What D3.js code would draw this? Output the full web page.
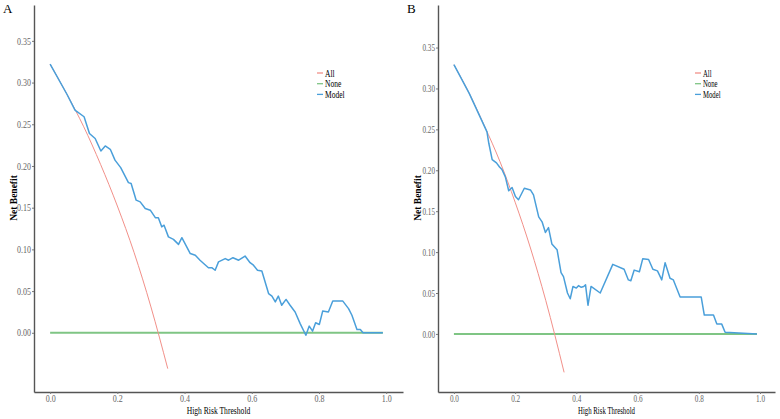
<!DOCTYPE html>
<html>
<head>
<meta charset="utf-8">
<script src="https://cdn.jsdelivr.net/npm/d3@7"></script>
<style>
  body { margin: 0; background: #fff; }
  svg { display: block; }
</style>
</head>
<body>
<svg id="chart" width="780" height="419"></svg>
<script>
// threshold probabilities and net benefit
const yTicks = [0, 0.05, 0.10, 0.15, 0.20, 0.25, 0.30, 0.35];
const xTicks = [0, 0.2, 0.4, 0.6, 0.8, 1.0];
const seriesNames = ['All', 'None', 'Model'];

const allA_t = [0, 0.05, 0.10, 0.15, 0.20, 0.25, 0.30, 0.35];
const allA_v = [0.322, 0.286, 0.247, 0.202, 0.152, 0.096, 0.031, -0.043];
const allB_t = [0, 0.05, 0.10, 0.15, 0.20, 0.25, 0.30, 0.36];
const allB_v = [0.329, 0.294, 0.254, 0.211, 0.161, 0.105, 0.041, -0.047];

const none_t = [0, 0.99];
const none_v = [0, 0];

const modelA_t = [0, 0.05, 0.074, 0.077, 0.101, 0.117, 0.134, 0.151, 0.164, 0.179,
  0.193, 0.210, 0.233, 0.241, 0.256, 0.268, 0.283, 0.298, 0.313, 0.322, 0.332,
  0.339, 0.352, 0.367, 0.382, 0.392, 0.417, 0.432, 0.446, 0.471, 0.481, 0.491,
  0.501, 0.521, 0.531, 0.544, 0.561, 0.580, 0.595, 0.605, 0.617, 0.630, 0.650,
  0.660, 0.670, 0.679, 0.689, 0.702, 0.714, 0.729, 0.744, 0.761, 0.771, 0.781,
  0.790, 0.801, 0.811, 0.828, 0.841, 0.871, 0.888, 0.898, 0.913, 0.923, 0.931, 0.99];
const modelA_v = [0.322, 0.286, 0.267, 0.266, 0.259, 0.239, 0.233, 0.218, 0.224, 0.220,
  0.207, 0.198, 0.180, 0.179, 0.159, 0.157, 0.149, 0.147, 0.138, 0.138, 0.127,
  0.129, 0.115, 0.112, 0.106, 0.114, 0.095, 0.093, 0.087, 0.078, 0.078, 0.075,
  0.085, 0.089, 0.087, 0.090, 0.087, 0.092, 0.084, 0.081, 0.075, 0.074, 0.047,
  0.044, 0.037, 0.044, 0.033, 0.040, 0.033, 0.025, 0.011, -0.003, 0.008, 0.002,
  0.012, 0.010, 0.026, 0.025, 0.038, 0.038, 0.029, 0.021, 0.004, 0.004, 0, 0];

const modelB_t = [0, 0.05, 0.108, 0.114, 0.125, 0.139, 0.149, 0.157, 0.168, 0.179,
  0.190, 0.201, 0.211, 0.230, 0.250, 0.260, 0.277, 0.288, 0.299, 0.309, 0.320,
  0.337, 0.350, 0.358, 0.371, 0.380, 0.389, 0.400, 0.407, 0.416, 0.424, 0.430,
  0.438, 0.448, 0.478, 0.519, 0.556, 0.570, 0.578, 0.589, 0.606, 0.617, 0.636,
  0.650, 0.665, 0.679, 0.690, 0.706, 0.717, 0.739, 0.808, 0.818, 0.848, 0.859,
  0.875, 0.886, 0.99];
const modelB_v = [0.329, 0.294, 0.247, 0.233, 0.213, 0.209, 0.204, 0.201, 0.192, 0.175,
  0.179, 0.168, 0.164, 0.178, 0.176, 0.170, 0.143, 0.137, 0.124, 0.130, 0.110,
  0.103, 0.075, 0.070, 0.050, 0.043, 0.058, 0.056, 0.059, 0.057, 0.058, 0.060,
  0.035, 0.058, 0.050, 0.085, 0.079, 0.066, 0.065, 0.078, 0.076, 0.092, 0.091,
  0.079, 0.077, 0.066, 0.087, 0.068, 0.066, 0.045, 0.045, 0.023, 0.023, 0.012,
  0.012, 0.002, 0];

const colors = { All: '#F29089', None: '#7FC584', Model: '#4A9FDA' };

const zip = (t, v) => t.map((d, i) => [d, v[i]]);

const panels = [
  { label: 'A', all: zip(allA_t, allA_v), model: zip(modelA_t, modelA_v),
    xDom: [-0.048, 1.05], xRange: [34, 403], yDom: [-0.071, 0.393], yRange: [392, 5],
    squeeze: 0.8, legendX: 317 },
  { label: 'B', all: zip(allB_t, allB_v), model: zip(modelB_t, modelB_v),
    xDom: [-0.052, 1.049], xRange: [438, 775], yDom: [-0.071, 0.402], yRange: [392, 5],
    squeeze: 0.72, legendX: 695 }
];

const svg = d3.select('#chart');
const font = '"Liberation Serif", "DejaVu Serif", serif';

// shrink a text horizontally (the figure's text is narrow)
function squeeze(sel, k) {
  sel.each(function() {
    const w = this.getComputedTextLength();
    d3.select(this).attr('textLength', w * k).attr('lengthAdjust', 'spacingAndGlyphs');
  });
}

panels.forEach(p => {
  const x = d3.scaleLinear().domain(p.xDom).range(p.xRange);
  const y = d3.scaleLinear().domain(p.yDom).range(p.yRange);
  const g = svg.append('g');

  const yAxis = g.append('g')
    .attr('transform', 'translate(' + p.xRange[0] + ',0)')
    .call(d3.axisLeft(y).tickValues(yTicks).tickFormat(d3.format('.2f'))
      .tickSize(2).tickSizeOuter(0).tickPadding(1));
  const xAxis = g.append('g')
    .attr('transform', 'translate(0,' + p.yRange[0] + ')')
    .call(d3.axisBottom(x).tickValues(xTicks).tickFormat(d3.format('.1f'))
      .tickSize(2).tickSizeOuter(0).tickPadding(1));

  [xAxis, yAxis].forEach(a => {
    a.select('.domain').attr('stroke', '#555').attr('stroke-width', 1.4);
    a.selectAll('.tick line').attr('stroke', '#777');
    a.selectAll('.tick text').attr('fill', '#666').style('font-family', font)
      .style('font-size', '10px').call(squeeze, p.squeeze);
  });

  const line = d3.line().x(d => x(d[0])).y(d => y(d[1]));

  g.append('path')
    .attr('d', line(zip(none_t, none_v)))
    .attr('fill', 'none').attr('stroke', colors.None).attr('stroke-width', 2);
  g.append('path')
    .attr('d', line.curve(d3.curveMonotoneX)(p.all))
    .attr('fill', 'none').attr('stroke', colors.All).attr('stroke-width', 1);
  line.curve(d3.curveLinear);
  g.append('path')
    .attr('d', line(p.model))
    .attr('fill', 'none').attr('stroke', colors.Model).attr('stroke-width', 1.5)
    .attr('stroke-linejoin', 'round');

  // panel letter
  g.append('text')
    .attr('x', p.xRange[0] - 31).attr('y', 13)
    .style('font-family', font).style('font-size', '13px').text(p.label);

  // axis titles
  const midX = (p.xRange[0] + p.xRange[1]) / 2;
  g.append('text')
    .attr('x', midX).attr('y', 414).attr('text-anchor', 'middle')
    .style('font-family', font).style('font-size', '10px')
    .text('High Risk Threshold').call(squeeze, p.squeeze - 0.04);
  g.append('text')
    .attr('transform', 'translate(' + (p.xRange[0] - 17) + ',198) rotate(-90)')
    .attr('text-anchor', 'middle')
    .style('font-family', font).style('font-size', '9.5px').style('font-weight', 'bold')
    .text('Net Benefit');

  // legend
  const leg = g.append('g').attr('transform', 'translate(' + p.legendX + ',73)');
  seriesNames.forEach((name, i) => {
    leg.append('line')
      .attr('x1', 0).attr('x2', 6).attr('y1', i * 10.7).attr('y2', i * 10.7)
      .attr('stroke', colors[name]).attr('stroke-width', 1.3);
    leg.append('text')
      .attr('x', 8).attr('y', i * 10.7 + 3.5)
      .style('font-family', font).style('font-size', '10px')
      .text(name).call(squeeze, p.squeeze - 0.05);
  });
});
</script>
</body>
</html>
